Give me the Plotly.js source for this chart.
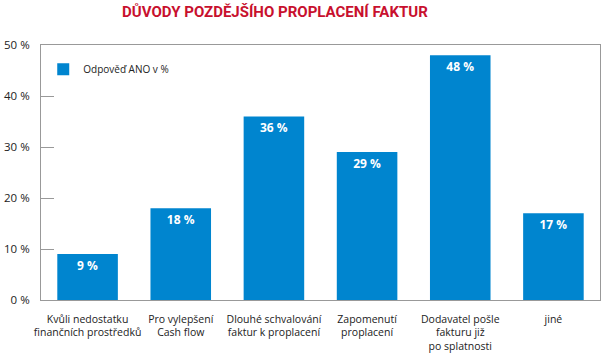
<!DOCTYPE html>
<html><head><meta charset="utf-8">
<script src="https://cdn.plot.ly/plotly-3.0.1.min.js"></script>
<style>body{margin:0;background:#fff}#c{width:611px;height:360px}</style>
</head><body><div id="c"></div>
<script>
const categories = [
  "Kvůli nedostatku<br>finančních prostředků",
  "Pro vylepšení<br>Cash flow",
  "Dlouhé schvalování<br>faktur k proplacení",
  "Zapomenutí<br>proplacení",
  "Dodavatel pošle<br>fakturu již<br>po splatnosti",
  "jiné"
];
const values = [9, 18, 36, 29, 48, 17];
const valueLabels = values.map(v => v + " %");
const seriesName = "Odpověď ANO v %";
const titleText = "DŮVODY POZDĚJŠÍHO PROPLACENÍ FAKTUR";

const trace = {
  type: "bar", x: categories, y: values, name: seriesName,
  text: valueLabels, textposition: "inside", insidetextanchor: "end",
  constraintext: "none", textangle: 0,
  insidetextfont: {family: "Open Sans", size: 12, color: "#fff", weight: 700},
  marker: {color: "#0085CF"}, showlegend: true, hoverinfo: "none"
};
const layout = {
  width: 611, height: 360,
  margin: {l: 41, r: 11, t: 45, b: 60},
  paper_bgcolor: "#fff", plot_bgcolor: "#fff",
  font: {family: "Open Sans", size: 11, color: "#222"},
  title: {text: titleText, x: 0.45, xanchor: "center", y: 0.967, yanchor: "middle",
    font: {family: "Roboto", size: 15, color: "#C8102E", weight: 700}},
  bargap: 0.35,
  xaxis: {showline: true, linecolor: "#999", linewidth: 1, mirror: true, ticks: "",
    ticklabelstandoff: 9,
    tickfont: {size: 10.5, color: "#222"}, showgrid: false, fixedrange: true},
  yaxis: {range: [0, 50], dtick: 10, ticksuffix: " %", showline: true, linecolor: "#999",
    mirror: true, ticks: "inside", ticklen: 13, tickcolor: "#999", showgrid: false,
    ticklabelstandoff: 8,
    zeroline: false, tickfont: {size: 11.5, color: "#222"}, fixedrange: true},
  legend: {x: 0.004, y: 0.905, xanchor: "left", yanchor: "middle", bgcolor: "rgba(0,0,0,0)",
    font: {size: 10, color: "#222"}},
  showlegend: true
};
Plotly.newPlot("c", [trace], layout, {displayModeBar: false, staticPlot: true});
</script></body></html>
